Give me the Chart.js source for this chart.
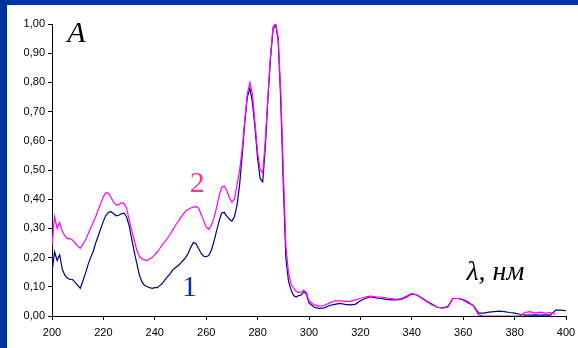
<!DOCTYPE html>
<html>
<head>
<meta charset="utf-8">
<script src="https://cdn.jsdelivr.net/npm/chart.js@4.4.0/dist/chart.umd.min.js"></script>
<style>
  html, body { margin: 0; padding: 0; background: #003399; width: 578px; height: 348px; overflow: hidden; }
  #frame { position: absolute; left: 7px; top: 5px; width: 571px; height: 343px; background: #fff; }
</style>
</head>
<body>
<div id="frame"><canvas id="spectra" width="571" height="343"></canvas></div>
<script>
// wavelengths, nm (1 nm steps up to 300, then 2 nm)
var wavelengths = [
  200,201,202,203,204,205,206,207,208,209,210,211,212,213,214,215,216,217,218,219,
  220,221,222,223,224,225,226,227,228,229,230,231,232,233,234,235,236,237,238,239,
  240,241,242,243,244,245,246,247,248,249,250,251,252,253,254,255,256,257,258,259,
  260,261,262,263,264,265,266,267,268,269,270,271,272,273,274,275,276,277,278,279,
  280,281,282,283,284,285,286,287,288,289,290,291,292,293,294,295,296,297,298,299,
  300,302,304,306,308,310,312,314,316,318,320,322,324,326,328,330,332,334,336,338,
  340,342,344,346,348,350,352,354,356,358,360,362,364,366,368,370,372,374,376,378,
  380,382,384,386,388,390,392,394,396,398,400
];

// curve 1 (dark blue)
var absorb1 = [
  0.15,0.22,0.19,0.21,0.16,0.14,0.13,0.125,0.125,0.115,0.105,0.095,0.12,0.145,0.175,0.20,0.22,0.25,0.275,0.30,
  0.325,0.345,0.355,0.357,0.35,0.343,0.345,0.35,0.352,0.34,0.31,0.265,0.22,0.18,0.14,0.117,0.105,0.10,0.097,0.095,
  0.097,0.097,0.105,0.112,0.125,0.135,0.145,0.158,0.165,0.172,0.18,0.19,0.20,0.215,0.235,0.252,0.248,0.232,0.215,0.205,
  0.203,0.207,0.225,0.255,0.29,0.325,0.352,0.355,0.342,0.332,0.325,0.34,0.38,0.45,0.55,0.66,0.75,0.78,0.73,0.645,
  0.54,0.47,0.46,0.58,0.74,0.88,0.98,1.0,0.945,0.74,0.45,0.20,0.12,0.09,0.07,0.065,0.07,0.072,0.083,0.075,
  0.045,0.03,0.026,0.028,0.036,0.04,0.043,0.04,0.038,0.04,0.052,0.06,0.066,0.062,0.06,0.057,0.055,0.055,0.058,0.065,
  0.075,0.072,0.062,0.05,0.04,0.03,0.028,0.032,0.06,0.06,0.055,0.045,0.035,0.01,0.01,0.013,0.015,0.017,0.015,0.012,
  0.01,0.006,0.003,0.003,0.004,0.003,0.004,0.003,0.02,0.02,0.018
];

// curve 2 (magenta)
var absorb2 = [
  0.24,0.34,0.30,0.32,0.29,0.275,0.265,0.265,0.26,0.25,0.24,0.232,0.245,0.26,0.28,0.30,0.32,0.34,0.365,0.385,
  0.41,0.422,0.42,0.405,0.39,0.38,0.382,0.388,0.385,0.37,0.33,0.295,0.26,0.226,0.205,0.196,0.192,0.19,0.195,0.20,
  0.21,0.22,0.232,0.245,0.255,0.268,0.28,0.295,0.31,0.322,0.335,0.348,0.36,0.365,0.37,0.373,0.375,0.37,0.35,0.325,
  0.305,0.297,0.31,0.335,0.37,0.41,0.44,0.445,0.43,0.405,0.39,0.40,0.45,0.50,0.57,0.67,0.76,0.80,0.76,0.66,
  0.56,0.50,0.49,0.60,0.75,0.89,0.99,1.0,0.955,0.77,0.50,0.24,0.15,0.11,0.095,0.085,0.08,0.082,0.088,0.08,
  0.052,0.038,0.034,0.036,0.045,0.052,0.052,0.05,0.05,0.055,0.06,0.066,0.068,0.066,0.065,0.062,0.06,0.057,0.06,0.068,
  0.077,0.072,0.06,0.048,0.038,0.03,0.027,0.03,0.06,0.06,0.057,0.048,0.035,0.003,0,0,0,0,0,0,
  0,0,0.012,0.015,0.01,0.013,0.01,0.012,0.005,null,null
];

var xTicks = [200, 220, 240, 260, 280, 300, 320, 340, 360, 380, 400];

function points(ys) {
  return wavelengths.map(function (w, i) { return { x: w, y: ys[i] }; });
}

// text labels placed in data coordinates
var notes = [
  { text: 'A',      x: 209.5, y: 0.965, font: 'italic 30px "Liberation Serif"', color: '#000000' },
  { text: '2',      x: 256.5, y: 0.45,  font: '30px "Liberation Serif"',        color: '#ff3399' },
  { text: '1',      x: 253.5, y: 0.095, font: '30px "Liberation Serif"',        color: '#003399' },
  { text: 'λ, нм',  x: 372.5, y: 0.15,  font: 'italic 28px "Liberation Serif"', color: '#000000' }
];

var notesPlugin = {
  id: 'notes',
  afterDatasetsDraw: function (chart) {
    var ctx = chart.ctx;
    ctx.save();
    ctx.textAlign = 'center';
    ctx.textBaseline = 'middle';
    notes.forEach(function (n) {
      ctx.font = n.font;
      ctx.fillStyle = n.color;
      ctx.fillText(n.text, chart.scales.x.getPixelForValue(n.x), chart.scales.y.getPixelForValue(n.y));
    });
    ctx.restore();
  }
};

var tickFont = { family: '"Liberation Sans", Arial, sans-serif', size: 11 };

new Chart(document.getElementById('spectra'), {
  type: 'line',
  data: {
    datasets: [
      { label: '2', data: points(absorb2), borderColor: '#ff00ff', borderWidth: 1.2, pointRadius: 0, tension: 0, spanGaps: false },
      { label: '1', data: points(absorb1), borderColor: '#000080', borderWidth: 1.2, pointRadius: 0, tension: 0, spanGaps: false }
    ]
  },
  options: {
    responsive: false,
    animation: false,
    devicePixelRatio: 1,
    layout: { padding: { top: 19, right: 12, left: 0, bottom: 0 } },
    plugins: { legend: { display: false }, tooltip: { enabled: false } },
    scales: {
      x: {
        type: 'linear',
        min: 200,
        max: 400,
        afterBuildTicks: function (scale) { scale.ticks = xTicks.map(function (v) { return { value: v }; }); },
        afterFit: function (scale) {
          scale.height = 32;
          scale.paddingLeft = 0;
          scale.paddingRight = 0;
        },
        border: { display: true, color: '#000', width: 1 },
        grid: { drawOnChartArea: false, drawTicks: true, tickLength: 4, color: '#000' },
        ticks: { color: '#000', font: tickFont, padding: 6, maxRotation: 0 }
      },
      y: {
        min: 0,
        max: 1,
        afterFit: function (scale) { scale.width = 45; },
        border: { display: true, color: '#000', width: 1 },
        grid: { drawOnChartArea: false, drawTicks: true, tickLength: 4, color: '#000' },
        ticks: {
          stepSize: 0.1,
          color: '#000',
          font: tickFont,
          padding: 3,
          callback: function (v) { return v.toFixed(2).replace('.', ','); }
        }
      }
    }
  },
  plugins: [notesPlugin]
});
</script>
</body>
</html>
